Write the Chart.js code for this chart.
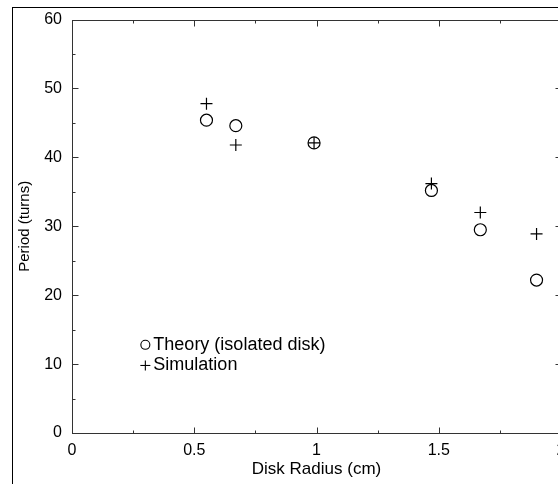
<!DOCTYPE html>
<html><head><meta charset="utf-8">
<script src="https://cdn.jsdelivr.net/npm/chart.js@4"></script>
<style>html,body{margin:0;padding:0;background:#fff;overflow:hidden}
#wrap{width:558px;height:484px;overflow:hidden;position:relative}
canvas{position:absolute;left:0;top:0}</style></head>
<body><div id="wrap"><canvas id="c" width="620" height="484"></canvas></div>
<script>
const radius = [0.55, 0.67, 0.99, 1.47, 1.67, 1.9];
const theory = [45.4, 44.6, 42.1, 35.2, 29.5, 22.2];
const simulation = [47.8, 41.8, 42.1, 36.2, 32.0, 28.9];
const seriesLabels = ['Theory (isolated disk)', 'Simulation'];
const xTitle = 'Disk Radius (cm)';
const yTitle = 'Period (turns)';

const FONT = '"Liberation Sans", Arial, Helvetica, sans-serif';
const INK = '#000';
const AXIS = '#333';

function line(ctx, x1, y1, x2, y2) { ctx.beginPath(); ctx.moveTo(x1, y1); ctx.lineTo(x2, y2); ctx.stroke(); }

const framePlugin = {
  id: 'frame',
  beforeDraw(chart) {
    const ctx = chart.ctx;
    ctx.save();
    ctx.fillStyle = '#fff';
    ctx.fillRect(0, 0, chart.width, chart.height);
    ctx.strokeStyle = '#000';
    ctx.lineWidth = 1;
    ctx.strokeRect(12.5, 7.5, 2000, 2000);
    ctx.restore();
  },
  afterDraw(chart) {
    const {ctx, chartArea: a, scales: {x, y}} = chart;
    ctx.save();
    ctx.strokeStyle = AXIS;
    ctx.lineWidth = 1;
    const L = Math.round(a.left) + 0.5, R = Math.round(a.right) + 0.5;
    const T = Math.round(a.top) + 0.5, B = Math.round(a.bottom) + 0.5;
    ctx.strokeRect(L, T, R - L, B - T);
    for (let i = 0; i <= 8; i++) {
      const v = i * 0.25;
      const px = Math.round(x.getPixelForValue(v)) + 0.5;
      const len = (i % 2 === 0) ? 6 : 3;
      line(ctx, px, B, px, B - len);
      line(ctx, px, T, px, T + len);
    }
    for (let i = 0; i <= 12; i++) {
      const v = i * 5;
      const py = Math.round(y.getPixelForValue(v)) + 0.5;
      const len = (i % 2 === 0) ? 6 : 3;
      line(ctx, L, py, L + len, py);
      line(ctx, R, py, R - len, py);
    }
    // legend
    ctx.strokeStyle = INK;
    ctx.fillStyle = INK;
    ctx.font = '18px ' + FONT;
    ctx.textBaseline = 'middle';
    ctx.textAlign = 'left';
    const sx = x.getPixelForValue(0.3);
    const y1 = y.getPixelForValue(12.8), y2 = y.getPixelForValue(9.8);
    ctx.lineWidth = 1.1;
    ctx.beginPath(); ctx.arc(sx, y1, 4.5, 0, Math.PI * 2); ctx.stroke();
    line(ctx, sx - 5, y2, sx + 5, y2);
    line(ctx, sx, y2 - 5, sx, y2 + 5);
    ctx.fillText(seriesLabels[0], sx + 8, y1);
    ctx.fillText(seriesLabels[1], sx + 8, y2);
    ctx.restore();
  }
};

new Chart(document.getElementById('c'), {
  type: 'scatter',
  data: {
    datasets: [
      {
        label: seriesLabels[0],
        data: radius.map((r, i) => ({x: r, y: theory[i]})),
        pointStyle: 'circle', pointRadius: 6, pointBorderWidth: 1.2,
        pointBackgroundColor: 'rgba(0,0,0,0)', pointBorderColor: INK
      },
      {
        label: seriesLabels[1],
        data: radius.map((r, i) => ({x: r, y: simulation[i]})),
        pointStyle: 'cross', pointRadius: 6, pointBorderWidth: 1.2,
        pointBorderColor: INK
      }
    ]
  },
  options: {
    responsive: false,
    animation: false,
    events: [],
    layout: {padding: {left: 0, top: 16, right: 59, bottom: 0}},
    plugins: {legend: {display: false}, tooltip: {enabled: false}},
    scales: {
      x: {
        type: 'linear', min: 0, max: 2,
        grid: {display: false, drawTicks: false},
        border: {display: false},
        ticks: {stepSize: 0.5, padding: 8, color: INK, font: {family: FONT, size: 16}, maxRotation: 0,
                callback: v => String(+v.toFixed(2))},
        title: {display: true, text: xTitle, color: INK, font: {family: FONT, size: 17}, padding: {top: 0, bottom: 4}},
        afterFit(s) { s.height = 51; }
      },
      y: {
        type: 'linear', min: 0, max: 60,
        grid: {display: false, drawTicks: false},
        border: {display: false},
        ticks: {stepSize: 10, padding: 10, color: INK, font: {family: FONT, size: 16}},
        title: {display: true, text: yTitle, color: INK, font: {family: FONT, size: 15}, padding: {top: 16, bottom: 0}},
        afterFit(s) { s.width = 72; }
      }
    }
  },
  plugins: [framePlugin]
});
</script></body></html>
